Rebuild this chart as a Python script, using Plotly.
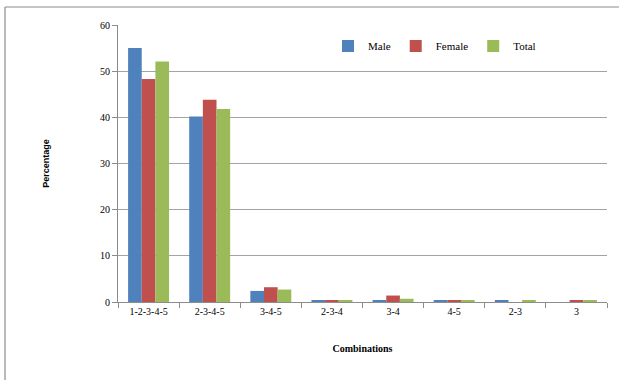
import plotly.graph_objects as go

# Share of respondents by combination of categories
combinations = ["1-2-3-4-5", "2-3-4-5", "3-4-5", "2-3-4", "3-4", "4-5", "2-3", "3"]
male = [55.0, 40.2, 2.4, 0.3, 0.3, 0.3, 0.3, 0.0]
female = [48.3, 43.8, 3.2, 0.3, 1.4, 0.3, 0.0, 0.3]
total = [52.1, 41.8, 2.7, 0.3, 0.7, 0.3, 0.3, 0.3]
y_ticks = [0, 10, 20, 30, 40, 50, 60]

series = [("Male", male, "#4F81BD"), ("Female", female, "#C0504D"), ("Total", total, "#9BBB59")]

fig = go.Figure()
for name, vals, col in series:
    fig.add_trace(go.Bar(x=combinations, y=vals, name=name, marker=dict(color=col, line=dict(width=0))))

W, H = 619, 380
ml, mr, mt, mb = 118, 12, 25, 78
pw, ph = W - ml - mr, H - mt - mb

def px_x(x):
    return (x - ml) / pw

def px_y(y):
    return (H - mb - y) / ph

# outer frame around the chart
frame = dict(color="#8c8c8c", width=1.2)
fig.add_shape(type="line", xref="paper", yref="paper", x0=px_x(5), x1=px_x(640),
              y0=px_y(7), y1=px_y(7), line=frame)
fig.add_shape(type="line", xref="paper", yref="paper", x0=px_x(5), x1=px_x(5),
              y0=px_y(7), y1=px_y(400), line=frame)

serif = "Liberation Serif, DejaVu Serif, serif"

fig.update_layout(
    width=W, height=H,
    margin=dict(l=ml, r=mr, t=mt, b=mb, autoexpand=False),
    paper_bgcolor="white", plot_bgcolor="white",
    barmode="group", bargap=0.33, bargroupgap=0,
    font=dict(family=serif, size=10, color="#000"),
    legend=dict(orientation="h", x=px_x(328), y=px_y(46), xanchor="left", yanchor="middle",
                font=dict(family=serif, size=11, color="#000"),
                itemwidth=30, bgcolor="rgba(0,0,0,0)", traceorder="normal"),
    xaxis=dict(
        title=dict(text="<b>Combinations</b>", font=dict(family=serif, size=10), standoff=28),
        showline=True, linecolor="#8c8c8c", linewidth=1,
        ticks="outside", ticklen=5, tickcolor="#8c8c8c", tickson="boundaries",
        tickfont=dict(family=serif, size=10), tickangle=0, showgrid=False,
    ),
    yaxis=dict(
        title=dict(text="<b>Percentage</b>", font=dict(family="Liberation Sans, Arial, sans-serif", size=9), standoff=48),
        range=[0, 60], tickvals=y_ticks,
        showline=True, linecolor="#8c8c8c", linewidth=1,
        ticks="outside", ticklen=5, tickcolor="#8c8c8c",
        showgrid=True, gridcolor="#a3a3a3", gridwidth=1,
        tickfont=dict(family=serif, size=10), zeroline=False,
    ),
)

fig.write_html("out.html")
